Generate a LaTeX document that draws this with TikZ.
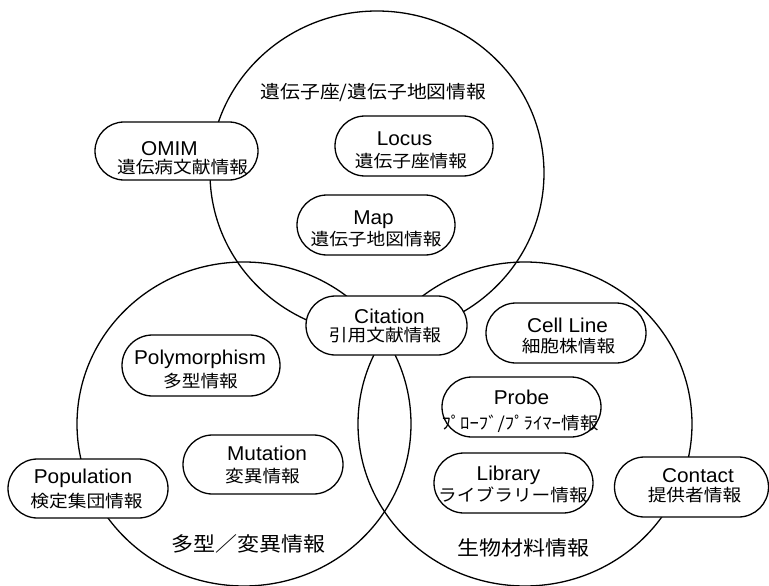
\documentclass[tikz,border=0pt]{standalone}
\usepackage{fontspec}
\usetikzlibrary{shapes.misc,shapes.geometric}
\newfontfamily\enfont{Liberation Sans}[FakeStretch=1.04]
\newfontfamily\jafont{Noto Sans CJK JP}[FakeStretch=1.1]
\begin{document}
\begin{tikzpicture}[x=1pt,y=-1pt,
  ring/.style={draw, ellipse, line width=1.3pt, minimum width=334pt, minimum height=324pt, inner sep=0pt},
  pill/.style={draw, fill=white, rounded rectangle, line width=1.3pt, minimum width=160pt, minimum height=60pt, inner sep=0pt},
  en/.style={anchor=base, inner sep=0pt, font=\enfont\fontsize{20}{24}\selectfont},
  ja/.style={anchor=center, inner sep=0pt, font=\jafont\fontsize{17}{20}\selectfont},
  title/.style={anchor=center, inner sep=0pt, font=\jafont\fontsize{20}{24}\selectfont}]
\useasboundingbox (0,0) rectangle (769,586);
% three sets
\node[ring] (gene) at (377,173) {};
\node[ring] (poly) at (244,424) {};
\node[ring] (bio)  at (525,424) {};
% set titles
\node[title, font=\jafont\fontsize{18}{22}\selectfont] (geneT) at (373.5,92.5) {遺伝子座/遺伝子地図情報};
\node[title] (polyT) at (248.5,544) {多型／変異情報};
\node[title] (bioT) at (523,547.5) {生物材料情報};
% OMIM
\node[pill, minimum width=163pt, minimum height=58pt] (omim) at (176.5,151) {};
\node[en] (omimE) at (169.5,155) {OMIM};
\node[ja] (omimJ) at (182.5,167.5) {遺伝病文献情報};
% Locus
\node[pill, minimum width=158pt] (locus) at (414,146) {};
\node[en] (locusE) at (404.5,146) {Locus};
\node[ja] (locusJ) at (411,161.5) {遺伝子座情報};
% Map
\node[pill, minimum width=158pt] (map) at (376,225) {};
\node[en] (mapE) at (373.5,224) {Map};
\node[ja] (mapJ) at (376,239.5) {遺伝子地図情報};
% Citation
\node[pill, minimum width=161pt, minimum height=59pt] (cit) at (386.5,325.5) {};
\node[en] (citE) at (389.5,323) {Citation};
\node[ja] (citJ) at (385,335.5) {引用文献情報};
% Cell Line
\node[pill] (cell) at (566,333) {};
\node[en] (cellE) at (567.5,332) {Cell Line};
\node[ja] (cellJ) at (568.5,346.5) {細胞株情報};
% Probe
\node[pill, minimum width=159pt] (probe) at (521.5,407) {};
\node[en] (probeE) at (521.5,404) {Probe};
\node[ja] (probeJ) at (520,423.5) {ﾌﾟﾛｰﾌﾞ/ﾌﾟﾗｲﾏｰ情報};
% Library
\node[pill, minimum width=159pt] (lib) at (513.5,483) {};
\node[en] (libE) at (508.5,480) {Library};
\node[ja] (libJ) at (513,495) {ライブラリー情報};
% Contact
\node[pill, minimum width=154pt] (cont) at (691.5,487) {};
\node[en] (contE) at (698,482) {Contact};
\node[ja] (contJ) at (694.5,495.5) {提供者情報};
% Polymorphism
\node[pill, minimum width=158pt, minimum height=61pt] (pm) at (201,365.5) {};
\node[en] (pmE) at (200,364) {Polymorphism};
\node[ja] (pmJ) at (200.5,381) {多型情報};
% Mutation
\node[pill, minimum width=160pt, minimum height=59pt] (mut) at (263,464.5) {};
\node[en] (mutE) at (267,460) {Mutation};
\node[ja] (mutJ) at (262.5,476.5) {変異情報};
% Population
\node[pill, minimum width=160pt, minimum height=59pt] (pop) at (88,488.5) {};
\node[en] (popE) at (83,483) {Population};
\node[ja] (popJ) at (86.5,501.5) {検定集団情報};
\end{tikzpicture}
\end{document}
